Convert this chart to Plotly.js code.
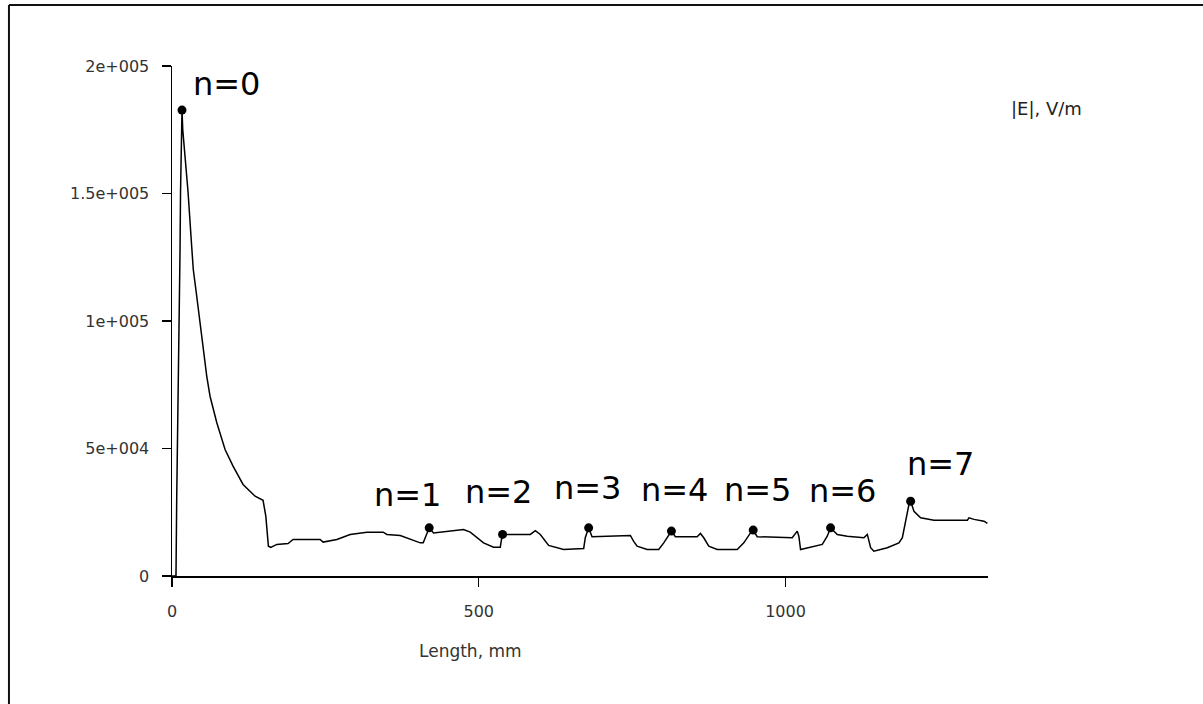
<!DOCTYPE html>
<html>
<head>
<meta charset="utf-8">
<script src="https://cdn.plot.ly/plotly-3.0.1.min.js"></script>
<style>
  html, body { margin: 0; padding: 0; background: #fff; }
  #chart { width: 1203px; height: 704px; }
</style>
</head>
<body>
<div id="chart"></div>
<script>
// Field magnitude along the structure
const lengthMm = [
  0, 6.5, 7.7, 11.4, 13.1, 13.9, 16.3, 17.5, 21.2, 26.1, 32.1, 34.7, 40.3, 48.4,
  56.6, 62.0, 72.9, 86.5, 99.5, 115.8, 135.4, 148.4, 152.9, 157.1, 161.0, 170.8,
  189.2, 197.4, 241.4, 246.3, 268.7, 290.4, 317.6, 344.2, 350.2, 372.0, 404.6,
  409.5, 414.3, 419.2, 426.3, 475.2, 486.1, 497.0, 507.8, 524.1, 535.1, 537.8,
  538.8, 584.0, 592.2, 600.3, 613.9, 638.3, 671.0, 673.7, 679.1, 684.6, 747.1,
  752.5, 758.1, 774.4, 793.3, 801.5, 809.6, 814.0, 820.5, 855.9, 861.3, 866.7,
  874.9, 888.6, 921.2, 932.0, 942.9, 947.3, 953.8, 1010.9, 1019.1, 1021.7,
  1024.5, 1046.2, 1059.9, 1068.0, 1073.4, 1084.3, 1100.6, 1127.7, 1133.3,
  1138.7, 1144.0, 1165.9, 1184.8, 1190.4, 1195.8, 1201.1, 1203.9, 1209.3,
  1220.2, 1241.9, 1296.4, 1299.0, 1307.2, 1323.5, 1329.0
];
const fieldVm = [
  0, 0, 30800, 90100, 128000, 150400, 182700, 175100, 164600, 150800, 129200,
  120200, 109700, 94000, 78400, 70500, 60200, 49600, 43100, 35900, 31300, 29700,
  23500, 11700, 11200, 12400, 12700, 14300, 14300, 13300, 14300, 16300, 17200,
  17200, 16300, 15900, 13000, 13000, 15900, 18900, 16900, 18200, 17200, 15000,
  13000, 11300, 11300, 15500, 16300, 16300, 17800, 16300, 12000, 10400, 10800,
  15100, 18900, 15400, 15900, 13600, 11700, 10400, 10400, 13000, 16300, 17600,
  15400, 15400, 16700, 15000, 11700, 10400, 10400, 13000, 16900, 18000, 15400,
  15000, 17600, 15600, 10400, 11500, 12400, 15600, 18900, 16300, 15600, 15000,
  16300, 11100, 9700, 11100, 13000, 15000, 20900, 28000, 29300, 25400, 22800,
  21900, 21900, 22800, 22200, 21500, 20600
];

// Marked points n = 0 … 7
const markLengthMm = [16.3, 419.2, 538.8, 679.1, 814.0, 947.3, 1073.4, 1203.9];
const markFieldVm = [182700, 18900, 16300, 18900, 17600, 18000, 18900, 29300];
const markLabels = ['n=0', 'n=1', 'n=2', 'n=3', 'n=4', 'n=5', 'n=6', 'n=7'];

// Axis ticks
const yTickVals = [0, 50000, 100000, 150000, 200000];
const yTickText = ['0', '5e+004', '1e+005', '1.5e+005', '2e+005'];
const xTickVals = [0, 500, 1000];
const xTickText = ['0', '500', '1000'];

// Pixel offsets of each label from its point
const labelShift = [
  [9, 26], [-57, 33], [-40, 42], [-37, 40], [-32, 41], [-31, 40], [-24, 37], [-6, 37]
];

const FONT = 'DejaVu Sans, Verdana, sans-serif';

const traces = [
  {
    x: lengthMm, y: fieldVm, type: 'scatter', mode: 'lines',
    line: { color: '#000', width: 1.5 }, hoverinfo: 'skip'
  },
  {
    x: markLengthMm, y: markFieldVm, type: 'scatter', mode: 'markers',
    marker: { color: '#000', size: 9 }, hoverinfo: 'skip'
  }
];

const annotations = markLabels.map((t, i) => ({
  x: markLengthMm[i], y: markFieldVm[i], xref: 'x', yref: 'y',
  text: t, showarrow: false, xanchor: 'left', yanchor: 'middle',
  xshift: labelShift[i][0], yshift: labelShift[i][1],
  font: { family: FONT, size: 32, color: '#000' }
}));

annotations.push({
  x: 0.3652, y: -0.147, xref: 'paper', yref: 'paper',
  text: 'Length, mm', showarrow: false, xanchor: 'center', yanchor: 'middle',
  font: { family: FONT, size: 17, color: '#333' }
});
annotations.push({
  x: 1.0723, y: 0.9176, xref: 'paper', yref: 'paper',
  text: '|E|, V/m', showarrow: false, xanchor: 'center', yanchor: 'middle',
  font: { family: FONT, size: 18, color: '#222' }
});

// Outer frame: left and top edges
const shapes = [
  { type: 'line', xref: 'paper', yref: 'paper', x0: -0.1998, x1: -0.1998, y0: 1.1196, y1: -0.26,
    line: { color: '#111', width: 2 } },
  { type: 'line', xref: 'paper', yref: 'paper', x0: -0.1998, x1: 1.27, y0: 1.1196, y1: 1.1196,
    line: { color: '#111', width: 2 } }
];

const layout = {
  width: 1203, height: 704,
  margin: { l: 172, r: 215, t: 66, b: 128, pad: 0 },
  paper_bgcolor: '#fff', plot_bgcolor: '#fff',
  showlegend: false,
  xaxis: {
    range: [0, 1330], showgrid: false, zeroline: false,
    showline: true, linecolor: '#000', linewidth: 1.5,
    ticks: 'outside', ticklen: 9, tickcolor: '#000', tickwidth: 1.2,
    tickvals: xTickVals, ticktext: xTickText, ticklabelstandoff: 11,
    tickfont: { family: FONT, size: 16, color: '#333' }
  },
  yaxis: {
    range: [0, 200000], showgrid: false, zeroline: false,
    showline: true, linecolor: '#000', linewidth: 1.5,
    ticks: 'outside', ticklen: 9, tickcolor: '#000', tickwidth: 1.2,
    tickvals: yTickVals, ticktext: yTickText, ticklabelstandoff: 9,
    tickfont: { family: FONT, size: 16, color: '#333' }
  },
  annotations: annotations,
  shapes: shapes
};

Plotly.newPlot('chart', traces, layout, { staticPlot: true, displayModeBar: false });
</script>
</body>
</html>
